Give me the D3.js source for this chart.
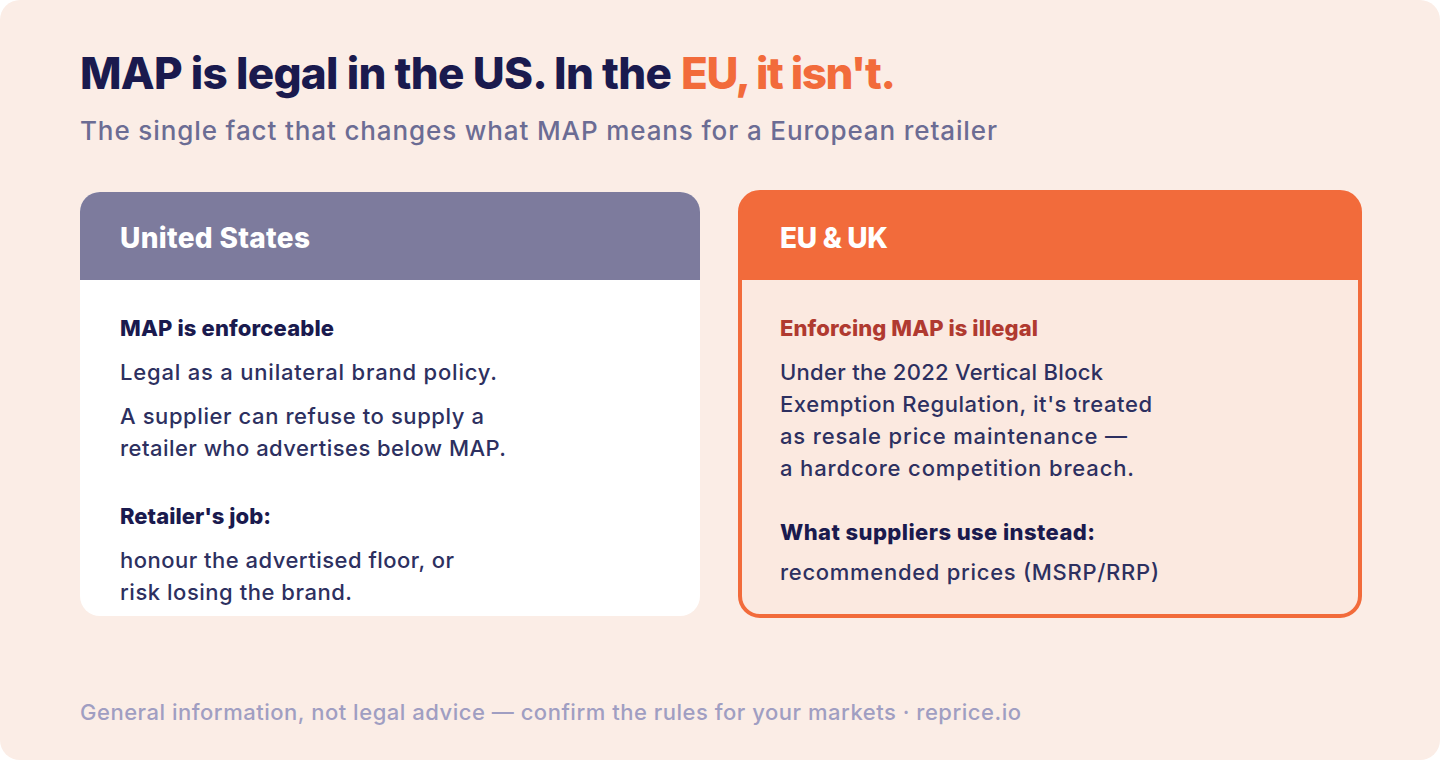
<!DOCTYPE html>
<html>
  <head>
    <title>MAP is legal in the US</title>
    <script src="https://cdn.jsdelivr.net/npm/d3@7/dist/d3.min.js"></script>
    <style type="text/css">
      html, body { margin: 0; padding: 0; background: #fff; overflow: hidden; }
      svg { display: block; }
      text { font-family: "Inter", "Noto Sans", sans-serif; }
    </style>
  </head>
  <body>
    <script type="text/javascript">
      // Text content
      var titleParts = ["MAP is legal in the US. In the", "EU, it isn't."];
      var subtitle = "The single fact that changes what MAP means for a European retailer";
      var footer = "General information, not legal advice \u2014 confirm the rules for your markets \u00b7 reprice.io";
      var usHeader = "United States";
      var euHeader = "EU & UK";
      var usLines = [
        ["head", "MAP is enforceable"],
        ["body", "Legal as a unilateral brand policy."],
        ["body", "A supplier can refuse to supply a"],
        ["body", "retailer who advertises below MAP."],
        ["head", "Retailer's job:"],
        ["body", "honour the advertised floor, or"],
        ["body", "risk losing the brand."]
      ];
      var euLines = [
        ["alert", "Enforcing MAP is illegal"],
        ["body", "Under the 2022 Vertical Block"],
        ["body", "Exemption Regulation, it's treated"],
        ["body", "as resale price maintenance \u2014"],
        ["body", "a hardcore competition breach."],
        ["head", "What suppliers use instead:"],
        ["body", "recommended prices (MSRP/RRP)"]
      ];

      // Layout: baselines and measured right edges of each text line
      var usBase = [336, 380, 424, 456, 524, 568, 600];
      var usRight = [334, 497, 484, 506, 271, 454, 352];
      var euBase = [336, 380, 412, 444, 476, 540, 580];
      var euRight = [1038, 1103, 1152, 1127, 1134, 1095, 1159];

      var colors = {
        page: "#fbede6", navy: "#1a1a4e", orange: "#f26b3b", muted: "#6b6c94",
        slate: "#7d7b9d", ink: "#2d3060", red: "#b03a30", tint: "#fbe9e0", foot: "#a09ec2"
      };

      var svg = d3.select("body").append("svg")
          .attr("width", 1440)
          .attr("height", 760);

      svg.append("rect")
          .attr("width", 1440).attr("height", 760)
          .attr("rx", 20)
          .attr("fill", colors.page);

      // Single line of text, squeezed to its measured width
      function label(x, y, right, str, size, weight, color) {
        return svg.append("text")
            .attr("x", x).attr("y", y)
            .attr("textLength", right - x)
            .attr("lengthAdjust", "spacing")
            .attr("font-size", size)
            .attr("font-weight", weight)
            .attr("fill", color)
            .text(str);
      }

      label(80, 89, 672, titleParts[0], 44, 800, colors.navy);
      label(681, 89, 896, titleParts[1], 44, 800, colors.orange);
      label(80, 140, 997, subtitle, 26, 500, colors.muted);
      label(80, 720, 1021, footer, 22, 500, colors.foot);

      // Card with a header band on top, clip keeps the round corners
      function card(id, x, w, headColor, fill, stroke, headText, lines, base, right) {
        var clip = svg.append("clipPath").attr("id", id);
        clip.append("rect")
            .attr("x", x).attr("y", 192)
            .attr("width", w).attr("height", 424)
            .attr("rx", 20);

        svg.append("rect")
            .attr("x", x).attr("y", 192)
            .attr("width", w).attr("height", 424)
            .attr("rx", 20)
            .attr("fill", fill);

        svg.append("rect")
            .attr("x", x).attr("y", 192)
            .attr("width", w).attr("height", 88)
            .attr("clip-path", "url(#" + id + ")")
            .attr("fill", headColor);

        if (stroke) {
          svg.append("rect")
              .attr("x", x).attr("y", 192)
              .attr("width", w).attr("height", 424)
              .attr("rx", 20)
              .attr("fill", "none")
              .attr("stroke", stroke)
              .attr("stroke-width", 4);
        }

        var tx = x + 40;
        label(tx, 248, tx + (id == "us" ? 190 : 108), headText, 28, 800, "#fff");

        lines.forEach(function(d, i) {
          var isHead = d[0] != "body";
          var color = d[0] == "alert" ? colors.red : (isHead ? colors.navy : colors.ink);
          label(tx, base[i], right[i], d[1], 22, isHead ? 800 : 500, color);
        });
      }

      card("us", 80, 620, colors.slate, "#fff", null, usHeader, usLines, usBase, usRight);
      card("eu", 740, 620, colors.orange, colors.tint, colors.orange, euHeader, euLines, euBase, euRight);
    </script>
  </body>
</html>
